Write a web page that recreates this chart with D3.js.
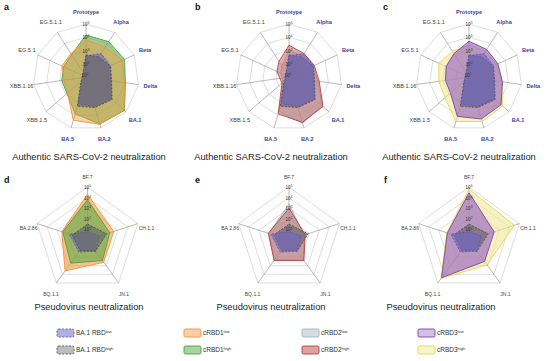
<!DOCTYPE html>
<html>
<head>
<meta charset="utf-8">
<script src="https://cdn.jsdelivr.net/npm/d3@7"></script>
<style>
body { margin: 0; background: #fff; }
svg { font-family: Arial, "Liberation Sans", sans-serif; }
</style>
</head>
<body>
<svg width="554" height="361"></svg>
<script>
var svg = d3.select('svg');

// strains (axes)
var authStrains = ['Prototype', 'Alpha', 'Beta', 'Delta', 'BA.1', 'BA.2', 'BA.5', 'XBB.1.5', 'XBB.1.16', 'EG.5.1', 'EG.5.1.1'];
var authHighlighted = ['Prototype', 'Alpha', 'Beta', 'Delta', 'BA.1', 'BA.2', 'BA.5'];
var pseudoStrains = ['BF.7', 'CH.1.1', 'JN.1', 'BQ.1.1', 'BA.2.86'];

var authTicks = [100, 1000, 10000, 100000];
var pseudoTicks = [10, 100, 1000, 10000, 100000];

// neutralizing titers, authentic virus
var ba1LowAuth  = [400, 1260, 1120, 790, 3550, 2000, 1260, 25, 18, 18, 22];
var ba1HighAuth = [460, 630, 1000, 890, 3980, 2510, 2000, 32, 20, 20, 25];
var crbd1LowAuth  = [6300, 5000, 10000, 8900, 63100, 52500, 25100, 710, 460, 1000, 1260];
var crbd1HighAuth = [14800, 14800, 15800, 10000, 70800, 50100, 7900, 790, 720, 710, 1000];
var crbd2LowAuth  = [1000, 790, 1000, 1580, 20000, 44700, 5000, 40, 32, 50, 100];
var crbd2HighAuth = [2510, 1260, 1260, 2000, 25100, 37200, 7900, 50, 50, 100, 250];
var crbd3LowAuth  = [5000, 2950, 2510, 3550, 15800, 20000, 12600, 710, 630, 790, 1260];
var crbd3HighAuth = [2510, 2000, 2000, 3160, 22400, 31600, 31600, 2510, 2000, 3160, 2000];

// neutralizing titers, pseudovirus
var ba1LowPseudo  = [6, 16, 20, 25, 63];
var ba1HighPseudo = [32, 80, 20, 16, 32];
var crbd1LowPseudo  = [20000, 400, 400, 3980, 355];
var crbd1HighPseudo = [6300, 160, 250, 500, 280];
var crbd2LowPseudo  = [2510, 32, 200, 200, 100];
var crbd2HighPseudo = [1000, 40, 250, 250, 112];
var crbd3LowPseudo  = [28200, 316, 316, 25100, 141];
var crbd3HighPseudo = [63100, 31600, 794, 31600, 158];

var styles = {
    ba1Low:    {stroke: '#5e56c0', fill: '#6e66c8', op: 0.6, dash: '2,1.5', legendFill: '#b3aee0'},
    ba1High:   {stroke: '#505050', fill: '#666666', op: 0.65, dash: '2,1.5', legendFill: '#bdbdbd'},
    crbd1Low:  {stroke: '#f39237', fill: '#f39a3d', op: 0.6, dash: null, legendFill: '#f8cfa6'},
    crbd1High: {stroke: '#4e9e45', fill: '#5aaa48', op: 0.6, dash: null, legendFill: '#a9d49f'},
    crbd2Low:  {stroke: '#9fb6c2', fill: '#b4c7d1', op: 0.6, dash: null, legendFill: '#d3dde2'},
    crbd2High: {stroke: '#b8403f', fill: '#c0605e', op: 0.5, dash: null, legendFill: '#d9a3a3'},
    crbd3Low:  {stroke: '#7e45a8', fill: '#9560bf', op: 0.62, dash: null, legendFill: '#d6bde3'},
    crbd3High: {stroke: '#e8d84a', fill: '#f2e89a', op: 0.6, dash: null, legendFill: '#f8f4cf'}
};

function addPow(sel, exp, size) {
    sel.append('tspan').text('10');
    sel.append('tspan').attr('font-size', size * 0.7).attr('dy', -size * 0.4).text(exp);
}

function drawRadar(cx, cy, R, axes, ticks, minVal, layers, opts) {
    var g = svg.append('g');
    var n = axes.length;
    var r = d3.scaleLog().domain([minVal, 100000]).range([0, R]).clamp(true);
    var ang = function(i) { return i * 2 * Math.PI / n; };
    var pt = function(i, rad) { return [cx + rad * Math.sin(ang(i)), cy - rad * Math.cos(ang(i))]; };
    var line = d3.line().curve(d3.curveLinearClosed);

    g.selectAll('.ring')
        .data(ticks)
        .enter()
        .append('path')
        .attr('d', function(t) {
            return line(axes.map(function(a, i) { return pt(i, r(t)); }));
        })
        .attr('fill', 'none')
        .attr('stroke', '#cfcfcf')
        .attr('stroke-width', 0.7);

    g.selectAll('.spoke')
        .data(axes)
        .enter()
        .append('line')
        .attr('x1', cx).attr('y1', cy)
        .attr('x2', function(d, i) { return pt(i, R)[0]; })
        .attr('y2', function(d, i) { return pt(i, R)[1]; })
        .attr('stroke', '#8a8a8a')
        .attr('stroke-width', 0.6);

    layers.forEach(function(layer) {
        var s = styles[layer.key];
        g.append('path')
            .attr('d', line(layer.values.map(function(v, i) { return pt(i, r(v)); })))
            .attr('fill', s.fill)
            .attr('fill-opacity', layer.op || s.op)
            .attr('stroke', s.stroke)
            .attr('stroke-width', 0.9)
            .attr('stroke-dasharray', s.dash)
            .attr('stroke-linejoin', 'round');
    });

    ticks.forEach(function(t) {
        var tx = g.append('text')
            .attr('x', cx).attr('y', cy - r(t) + 2)
            .attr('text-anchor', 'middle')
            .attr('font-size', 4.5)
            .attr('fill', '#333');
        addPow(tx, String(Math.round(Math.log10(t))), 4.5);
    });
    if (opts.centerTick) {
        var tc = g.append('text')
            .attr('x', cx - 1).attr('y', cy - 0.5)
            .attr('text-anchor', 'middle')
            .attr('font-size', 4.5)
            .attr('fill', '#333');
        addPow(tc, opts.centerTick, 4.5);
    }

    g.selectAll('.lab')
        .data(axes)
        .enter()
        .append('text')
        .attr('x', function(d, i) { return pt(i, R + opts.labelGap)[0]; })
        .attr('y', function(d, i) { return pt(i, R + opts.labelGap)[1] + opts.labelShift(i); })
        .attr('dy', '0.35em')
        .attr('text-anchor', 'middle')
        .attr('font-size', opts.labelSize)
        .attr('font-weight', function(d) { return opts.bold(d) ? 'bold' : 'normal'; })
        .attr('fill', function(d) { return opts.bold(d) ? '#3f3f9f' : '#444'; })
        .text(function(d) { return d; });
}

var authOpts = {
    labelGap: 12, labelSize: 5.6, centerTick: '1',
    labelShift: function(i) { return 0; },
    bold: function(d) { return authHighlighted.indexOf(d) >= 0; }
};
var pseudoOpts = {
    labelGap: 9, labelSize: 5, centerTick: null,
    labelShift: function(i) { return (i === 1 || i === 4) ? 7 : (i === 0 ? -1 : 4); },
    bold: function(d) { return false; }
};

drawRadar(86, 77, 53, authStrains, authTicks, 10, [
    {key: 'crbd1High', values: crbd1HighAuth},
    {key: 'crbd1Low', values: crbd1LowAuth, op: 0.45},
    {key: 'ba1Low', values: ba1LowAuth},
    {key: 'ba1High', values: ba1HighAuth}
], authOpts);
drawRadar(289, 77, 53, authStrains, authTicks, 10, [
    {key: 'crbd2Low', values: crbd2LowAuth},
    {key: 'crbd2High', values: crbd2HighAuth},
    {key: 'ba1High', values: ba1HighAuth},
    {key: 'ba1Low', values: ba1LowAuth}
], authOpts);
drawRadar(469, 77, 53, authStrains, authTicks, 10, [
    {key: 'crbd3High', values: crbd3HighAuth},
    {key: 'crbd3Low', values: crbd3LowAuth},
    {key: 'ba1High', values: ba1HighAuth},
    {key: 'ba1Low', values: ba1LowAuth}
], authOpts);

drawRadar(87.5, 240, 53, pseudoStrains, pseudoTicks, 1, [
    {key: 'crbd1Low', values: crbd1LowPseudo},
    {key: 'crbd1High', values: crbd1HighPseudo},
    {key: 'ba1Low', values: ba1LowPseudo},
    {key: 'ba1High', values: ba1HighPseudo}
], pseudoOpts);
drawRadar(289, 240, 53, pseudoStrains, pseudoTicks, 1, [
    {key: 'crbd2Low', values: crbd2LowPseudo},
    {key: 'crbd2High', values: crbd2HighPseudo},
    {key: 'ba1High', values: ba1HighPseudo},
    {key: 'ba1Low', values: ba1LowPseudo}
], pseudoOpts);
drawRadar(469, 240, 53, pseudoStrains, pseudoTicks, 1, [
    {key: 'crbd3High', values: crbd3HighPseudo},
    {key: 'crbd3Low', values: crbd3LowPseudo},
    {key: 'ba1High', values: ba1HighPseudo},
    {key: 'ba1Low', values: ba1LowPseudo}
], pseudoOpts);

// panel letters and titles
var letters = [['a', 4, 10], ['b', 195, 10], ['c', 383, 10], ['d', 4, 183], ['e', 195, 183], ['f', 384, 183]];
svg.selectAll('.letter')
    .data(letters)
    .enter()
    .append('text')
    .attr('x', function(d) { return d[1]; })
    .attr('y', function(d) { return d[2]; })
    .attr('font-size', 9)
    .attr('font-weight', 'bold')
    .attr('fill', '#111')
    .text(function(d) { return d[0]; });

var titles = [
    ['Authentic SARS-CoV-2 neutralization', 89, 160],
    ['Authentic SARS-CoV-2 neutralization', 271, 160],
    ['Authentic SARS-CoV-2 neutralization', 459, 160],
    ['Pseudovirus neutralization', 89, 310],
    ['Pseudovirus neutralization', 271, 310],
    ['Pseudovirus neutralization', 441, 310]
];
svg.selectAll('.title')
    .data(titles)
    .enter()
    .append('text')
    .attr('x', function(d) { return d[1]; })
    .attr('y', function(d) { return d[2]; })
    .attr('text-anchor', 'middle')
    .attr('font-size', 9.3)
    .attr('fill', '#222')
    .text(function(d) { return d[0]; });

// legend
var legendItems = [
    {key: 'ba1Low', name: 'BA.1 RBD', sup: 'low', x: 57, y: 333},
    {key: 'ba1High', name: 'BA.1 RBD', sup: 'high', x: 57, y: 350},
    {key: 'crbd1Low', name: 'cRBD1', sup: 'low', x: 184, y: 333},
    {key: 'crbd1High', name: 'cRBD1', sup: 'high', x: 184, y: 350},
    {key: 'crbd2Low', name: 'cRBD2', sup: 'low', x: 302, y: 333},
    {key: 'crbd2High', name: 'cRBD2', sup: 'high', x: 302, y: 350},
    {key: 'crbd3Low', name: 'cRBD3', sup: 'low', x: 418, y: 333},
    {key: 'crbd3High', name: 'cRBD3', sup: 'high', x: 418, y: 350}
];
var leg = svg.selectAll('.leg')
    .data(legendItems)
    .enter()
    .append('g');
leg.append('rect')
    .attr('x', function(d) { return d.x; })
    .attr('y', function(d) { return d.y - 4; })
    .attr('width', 17)
    .attr('height', 8)
    .attr('rx', 1.5)
    .attr('fill', function(d) { return styles[d.key].legendFill; })
    .attr('stroke', function(d) { return styles[d.key].stroke; })
    .attr('stroke-width', 0.9)
    .attr('stroke-dasharray', function(d) { return styles[d.key].dash; });
var lt = leg.append('text')
    .attr('x', function(d) { return d.x + 19; })
    .attr('y', function(d) { return d.y + 2.3; })
    .attr('font-size', 6.5)
    .attr('fill', '#333');
lt.append('tspan').text(function(d) { return d.name; });
lt.append('tspan')
    .attr('font-size', 4)
    .attr('dy', -2.5)
    .text(function(d) { return d.sup; });
</script>
</body>
</html>
